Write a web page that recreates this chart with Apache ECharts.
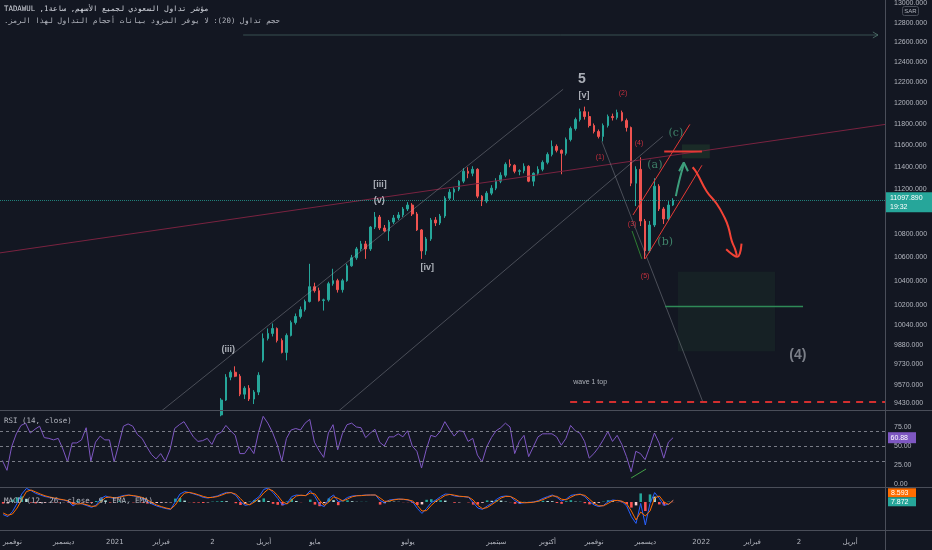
<!DOCTYPE html>
<html><head><meta charset="utf-8">
<script src="https://cdn.jsdelivr.net/npm/echarts@6/dist/echarts.min.js"></script>
<style>html,body{margin:0;padding:0;background:#131722;}#c{width:932px;height:550px;}</style>
</head><body><div id="c"></div>
<script>
// ---------- time axis (2-session slots per category) ----------
const monthKeys = ['2020-10','2020-11','2020-12','2021-01','2021-02','2021-03','2021-04','2021-05','2021-06','2021-07','2021-08','2021-09','2021-10','2021-11','2021-12','2022-01','2022-02','2022-03','2022-04'];
const monthNames = ['','نوفمبر','ديسمبر','2021','فبراير','2','أبريل','مايو','','يوليو','','سبتمبر','أكتوبر','نوفمبر','ديسمبر','2022','فبراير','2','أبريل'];
const monthSlots = [2,11,11,10,11,11,11,10,10,10,9,11,10,11,12,11,10,11,8];

// ---------- price candles [open, close, low, high], first slot = 47 ----------
const firstCandleSlot = 47;
const candles = [
[9340,9452,9330,9467],[9452,9628,9445,9651],[9628,9666,9604,9681],[9666,9635,9628,9712],[9635,9497,9482,9651],
[9497,9543,9460,9558],[9543,9460,9445,9566],[9460,9513,9422,9528],[9513,9643,9490,9666],[9759,9932,9743,9972],
[9932,9972,9916,10012],[9972,10012,9948,10052],[10012,9916,9900,10020],[9916,9821,9813,9932],[9821,9956,9759,9972],
[9956,10060,9948,10076],[10060,10109,10044,10133],[10109,10165,10093,10190],[10165,10231,10149,10247],[10231,10354,10223,10546],
[10354,10321,10305,10387],[10321,10239,10231,10346],[10239,10245,10157,10255],[10245,10379,10231,10395],[10379,10404,10362,10504],
[10404,10329,10305,10420],[10329,10404,10305,10420],[10404,10529,10395,10546],[10529,10597,10521,10622],[10597,10673,10580,10690],
[10673,10716,10656,10742],[10716,10673,10588,10742],[10673,10862,10656,10871],[10862,10950,10845,10994],[10950,10854,10837,10968],
[10854,10828,10820,10880],[10828,10906,10742,10924],[10906,10942,10889,10968],[10942,10968,10924,10994],[10968,11021,10950,11038],
[11021,11056,11003,11082],[11056,10977,10959,11073],[10977,10837,10828,10994],[10837,10656,10588,10845],[10656,10759,10622,10776],
[10759,10924,10742,10942],[10924,10898,10871,10950],[10898,10959,10880,10977],[10959,11117,10942,11135],[11117,11171,11100,11198],
[11171,11198,11100,11216],[11198,11270,11180,11279],[11270,11360,11252,11388],[11360,11342,11297,11397],[11342,11378,11315,11406],
[11378,11135,11117,11388],[11135,11091,11047,11144],[11091,11162,11073,11180],[11162,11207,11144,11234],[11207,11270,11189,11297],
[11270,11324,11252,11351],[11324,11424,11306,11442],[11424,11415,11397,11469],[11415,11360,11342,11424],[11360,11365,11324,11378],
[11365,11406,11342,11433],[11406,11270,11261,11415],[11270,11342,11225,11351],[11342,11378,11324,11406],[11378,11442,11360,11460],
[11442,11515,11424,11534],[11515,11590,11497,11645],[11590,11553,11534,11608],[11553,11525,11333,11562],[11525,11654,11506,11673],
[11654,11757,11636,11776],[11757,11842,11738,11861],[11842,11918,11824,11947],[11918,11871,11842,11966],[11871,11786,11767,11918],
[11786,11729,11711,11805],[11729,11683,11664,11748],[11683,11786,11636,11805],[11786,11871,11767,11890],[11871,11861,11833,11899],
[11861,11909,11842,11937],[11909,11833,11824,11928],[11833,11767,11729,11852],[11767,11252,11225,11776],[11252,11378,11047,11406],
[11378,10915,10871,11488],[10915,10656,10588,10933],[10656,10880,10639,10915],[10880,11225,10862,11297],[11225,11021,11003,11243],
[11021,10933,10889,11038],[10933,11056,10915,11091],[11056,11097.89,11047,11117]
];
const lastClose = 11097.89;
const priceTicks = [9430,9570,9730,9880,10040,10200,10400,10600,10800,11200,11400,11600,11800,12000,12200,12400,12600,12800,13000];

// ---------- RSI (14) per slot ----------
const rsi = [31,18,49,66,77,80,67,72,76,61,60,58,60,46,29,54,54,58,74,30,
55,63,58,58,29,52,76,79,76,65,60,49,39,33,40,30,45,73,78,82,
72,62,56,57,60,52,65,68,77,70,64,40,40,49,40,68,89,80,68,52,
30,60,71,73,71,80,85,55,44,35,67,78,45,66,78,80,75,74,61,67,
72,55,50,62,62,66,62,70,50,43,21,45,64,62,69,82,72,63,70,69,
56,60,38,29,49,61,70,74,80,75,40,56,64,36,49,62,66,66,66,62,
51,60,77,70,67,56,34,40,48,58,69,56,64,52,36,16,43,40,32,49,
67,54,34,55,60.88];
const rsiTicks = [0,25,50,75];
const rsiLevels = [70,50,30];
const rsiDivergence = [[135.0,7.9],[138.2,19.7]];

// ---------- MACD (12,26,9) per slot ----------
const macd = [-63,-73,-48,-7,40,68,57,43,35,27,23,18,13,10,3,-20,-3,-10,-18,-27,
-15,18,30,22,18,27,33,35,30,27,18,2,-10,-20,-27,-33,-37,2,40,52,
47,40,33,23,20,25,30,40,48,47,33,2,-17,-12,10,27,63,70,47,18,
-15,-7,27,35,33,32,57,27,-13,-23,18,35,2,7,23,30,32,33,35,35,
35,7,-3,10,13,15,13,10,0,-32,-57,-32,-3,10,27,40,38,30,27,27,
23,-3,-30,-37,-20,-7,13,27,30,27,7,-7,-3,-2,0,7,18,27,35,23,
5,15,33,37,40,27,2,-15,-23,-17,2,10,7,2,-20,-73,-107,-7,-115,-7,
47,18,-17,-10,7.872];
const signal = [-55,-66,-60,-30,12,52,60,50,40,31,25,20,15,11,6,-8,-10,-8,-14,-22,
-20,2,22,25,20,23,30,34,32,28,22,10,-3,-15,-23,-30,-35,-15,20,45,
48,43,36,28,22,23,27,35,44,47,39,17,-8,-14,0,18,45,65,56,32,
2,-10,10,30,34,32,45,40,8,-17,0,26,18,5,15,26,31,32,34,35,
35,20,3,5,11,14,14,11,5,-17,-45,-43,-17,4,18,33,38,34,29,27,
25,10,-17,-33,-28,-13,3,20,28,28,16,0,-4,-3,-1,4,12,22,31,28,
14,11,24,35,38,33,14,-7,-19,-19,-7,6,8,4,-9,-45,-90,-50,-70,-45,
20,30,0,-12,8.593];
const hist = [-8,-7,12,23,28,16,-3,-7,-5,-4,-2,-2,-2,-1,-3,-12,7,-2,-4,-5,
5,16,8,-3,-2,4,3,1,-2,-1,-4,-8,-7,-5,-4,-3,-2,17,20,7,
-1,-3,-3,-5,-2,2,3,5,4,0,-6,-15,-9,2,10,9,18,5,-9,-14,
-17,3,17,5,-1,0,12,-13,-21,-6,18,9,-16,2,8,4,1,1,1,0,
0,-13,-6,5,2,1,-1,-1,-5,-15,-12,11,14,6,9,7,0,-4,-2,0,
-2,-13,-13,-4,8,6,10,7,2,-1,-9,-7,1,1,1,3,6,5,4,-5,
-9,4,9,2,2,-6,-12,-8,-4,2,9,4,-1,-2,-11,-28,-17,43,-45,38,
27,-12,-17,2,-0.72];

// ---------- analyst drawings in (slot, price) ----------
const upperChannel = [[33.1,9340],[120.4,12134]];
const lowerChannel = [[71.2,9340],[141.8,11683]];
const longTrend = [[-0.5,10639],[189.5,11796]];
const wave1Ray = [[128.7,11636],[150.4,9437]];
const wave1Top = [[121.9,9437],[189.5,9437]];
const redChannelUpper = [[135.4,10968],[147.6,11796]];
const redChannelLower = [[138.0,10588],[150.2,11415]];
const redLevel = [[142.1,11543],[150.2,11543]];
const targetLine = [[142.3,10190],[171.9,10190]];
const targetBox = [[145.05,10479],[165.9,9830]];
const cBox = [[145.9,11608],[151.9,11479]];
const greenArrow = [[144.6,11135],[145.3,11270],[146.3,11424]];
const greenArrowHead = [[145.3,11360],[146.3,11442],[147.2,11360]];
const redArrow = [[148.2,11397],[149.1,11345],[151.2,11180],[153.4,11065],[155.1,10941],[155.9,10857],[156.6,10742],[157.3,10673],[157.7,10614]];
const redArrowHead = [[155.4,10671],[157.8,10606],[158.7,10719]];
const dropArrow = [[135.2,10828],[137.3,10588]];
const topRay = [[51.7,12675],[188.0,12675]];
const topRayHead = [[186.9,12706],[188.0,12675],[186.9,12645]];

const labelsWhite = [[124.9,12072,'[v]'],[81.1,11243,'[iii]'],[80.9,11100,'(v)'],[91.2,10512,'[iv]'],[48.5,9845,'(iii)']];
const labelsBig = [[124.45,12237,'5']];
const labelsGrey = [[170.8,9798,'(4)']];
const labelsRed = [[133.25,12101,'(2)'],[128.3,11488,'(1)'],[136.7,11618,'(4)'],[135.2,10889,'(3)'],[138.0,10445,'(5)']];
const labelsGreen = [[140.1,11415,'(a)'],[142.3,10733,'(b)'],[144.6,11711,'(c)']];
const labelsNote = [[126.2,9589,'wave 1 top']];

// ---------- build ----------
const categories = [];
const monthLabelAt = {};
monthSlots.forEach((n, m) => {
  for (let k = 0; k < n; k++) {
    const idx = categories.length;
    categories.push(monthKeys[m] + '-' + (k + 1));
    if (k === 0 && monthNames[m]) monthLabelAt[idx] = monthNames[m];
  }
});
const nSlots = categories.length;
const candleData = [];
for (let i = 0; i < firstCandleSlot; i++) candleData.push(['-','-','-','-']);
candles.forEach(c => candleData.push(c));

const TXT = '#b2b5be';
const SEP = '#4a4e59';
const MONO = "'DejaVu Sans Mono','DejaVu Sans',monospace";
const SANS = "'Liberation Sans','DejaVu Sans',sans-serif";

function seg(data, style, extra) {
  return Object.assign({type:'line', xAxisIndex:3, yAxisIndex:0, data:data, symbol:'none', silent:true,
    lineStyle:style, z:4, animation:false}, extra || {});
}
function labelSeries(data, lab) {
  return {type:'scatter', xAxisIndex:3, yAxisIndex:0, data:data, symbolSize:1, silent:true, z:6,
    itemStyle:{color:'rgba(0,0,0,0)'},
    label:Object.assign({show:true, position:'inside', formatter:p => p.value[2]}, lab)};
}

const chart = echarts.init(document.getElementById('c'));
const option = {
  backgroundColor:'#131722',
  animation:false,
  textStyle:{fontFamily:SANS},
  grid:[
    {left:0, right:47, top:0, height:410},
    {left:0, right:47, top:411, height:73},
    {left:0, right:47, top:488, height:42}
  ],
  xAxis:[
    {type:'category', gridIndex:0, data:categories, show:false},
    {type:'category', gridIndex:1, data:categories, show:false},
    {type:'category', gridIndex:2, data:categories, axisLine:{show:false}, axisTick:{show:false}, splitLine:{show:false},
      axisLabel:{interval:(i) => monthLabelAt[i] !== undefined, formatter:(v, i) => monthLabelAt[i] || '',
        color:TXT, fontSize:7, margin:9, fontFamily:"'DejaVu Sans',sans-serif"}},
    {type:'value', gridIndex:0, min:-0.5, max:nSlots - 0.5, show:false},
    {type:'value', gridIndex:1, min:-0.5, max:nSlots - 0.5, show:false}
  ],
  yAxis:[
    {type:'log', logBase:10, gridIndex:0, position:'right', min:9377, max:13014,
      axisLine:{show:false}, axisTick:{show:false}, splitLine:{show:false},
      axisLabel:{customValues:priceTicks, formatter:v => Math.round(v).toFixed(3), color:TXT, fontSize:7, margin:9, fontFamily:SANS}},
    {type:'value', gridIndex:1, position:'right', min:0, max:96,
      axisLine:{show:false}, axisTick:{show:false}, splitLine:{show:false},
      axisLabel:{customValues:rsiTicks, formatter:v => Number(v).toFixed(2), color:TXT, fontSize:7, margin:9, fontFamily:SANS}},
    {type:'value', gridIndex:2, position:'right', min:-140, max:70,
      axisLine:{show:false}, axisTick:{show:false}, splitLine:{show:false}, axisLabel:{show:false}}
  ],
  series:[
    {type:'line', xAxisIndex:3, yAxisIndex:0, data:targetBox, symbol:'none', silent:true, lineStyle:{opacity:0}, z:1,
      markArea:{silent:true, data:[
        [{coord:targetBox[0], itemStyle:{color:'rgba(76,175,80,0.07)'}},{coord:targetBox[1]}],
        [{coord:cBox[0], itemStyle:{color:'rgba(76,175,80,0.13)'}},{coord:cBox[1]}]
      ]}},
    {type:'candlestick', xAxisIndex:0, yAxisIndex:0, data:candleData, barWidth:'45%', z:3,
      itemStyle:{color:'#26a69a', color0:'#ef5350', borderColor:'#26a69a', borderColor0:'#ef5350', borderWidth:1},
      markLine:{silent:true, symbol:['none','none'], label:{show:false},
        lineStyle:{type:'dotted', color:'#26a69a', width:1, opacity:0.75}, data:[{yAxis:lastClose}]}},
    seg(longTrend, {color:'#7a2340', width:1}),
    seg(upperChannel, {color:'rgba(178,181,190,0.35)', width:1}),
    seg(lowerChannel, {color:'rgba(178,181,190,0.35)', width:1}),
    seg(wave1Ray, {color:'rgba(178,181,190,0.35)', width:1}),
    seg(topRay, {color:'rgba(90,130,120,0.55)', width:1}),
    seg(topRayHead, {color:'rgba(90,130,120,0.7)', width:1}),
    seg(wave1Top, {color:'#d32f2f', width:2, type:[7,6]}),
    seg(redChannelUpper, {color:'#e53935', width:1}),
    seg(redChannelLower, {color:'#e53935', width:1}),
    seg(redLevel, {color:'#e53935', width:2}),
    seg(targetLine, {color:'#2f8a57', width:1.5}),
    seg(greenArrow, {color:'#3d9e7c', width:2}, {smooth:true}),
    seg(greenArrowHead, {color:'#3d9e7c', width:2}),
    seg(redArrow, {color:'#f44336', width:2}, {smooth:true}),
    seg(redArrowHead, {color:'#f44336', width:2}, {smooth:0.4}),
    seg(dropArrow, {color:'#2e7d32', width:1}),
    labelSeries(labelsWhite, {color:'#d1d4dc', fontSize:9, fontWeight:'bold', fontFamily:SANS}),
    labelSeries(labelsBig, {color:'#d1d4dc', fontSize:14, fontWeight:'bold', fontFamily:SANS}),
    labelSeries(labelsGrey, {color:'#9598a1', fontSize:14, fontWeight:'bold', fontFamily:SANS}),
    labelSeries(labelsRed, {color:'#f23645', fontSize:7, fontFamily:SANS}),
    labelSeries(labelsGreen, {color:'#4a9c7a', fontSize:11, fontFamily:"'DejaVu Serif',serif"}),
    labelSeries(labelsNote, {color:'#d1d4dc', fontSize:7, fontFamily:SANS}),
    {type:'line', xAxisIndex:1, yAxisIndex:1, data:rsi, symbol:'none', z:3,
      lineStyle:{color:'#7e57c2', width:1},
      markLine:{silent:true, symbol:['none','none'], label:{show:false},
        lineStyle:{type:[3,3], color:'#787b86', width:1}, data:rsiLevels.map(v => ({yAxis:v}))}},
    {type:'line', xAxisIndex:4, yAxisIndex:1, data:rsiDivergence, symbol:'none', silent:true, lineStyle:{color:'#43a047', width:1}},
    {type:'bar', xAxisIndex:2, yAxisIndex:2, data:hist, barWidth:'55%', z:2,
      itemStyle:{color:p => {
        const v = hist[p.dataIndex], pr = p.dataIndex > 0 ? hist[p.dataIndex - 1] : 0;
        if (v >= 0) return v >= pr ? '#26a69a' : '#b2dfdb';
        return v <= pr ? '#ff5252' : '#ffcdd2';
      }}},
    {type:'line', xAxisIndex:2, yAxisIndex:2, data:macd, symbol:'none', z:3, lineStyle:{color:'#2962ff', width:1}},
    {type:'line', xAxisIndex:2, yAxisIndex:2, data:signal, symbol:'none', z:4, lineStyle:{color:'#ff6d00', width:1}}
  ],
  graphic:[
    {type:'line', id:'sepV', shape:{x1:885.5, y1:0, x2:885.5, y2:550}, style:{stroke:SEP, lineWidth:1}, z:50},
    {type:'line', id:'sepH1', shape:{x1:0, y1:410.5, x2:932, y2:410.5}, style:{stroke:SEP, lineWidth:1}, z:50},
    {type:'line', id:'sepH2', shape:{x1:0, y1:487.5, x2:932, y2:487.5}, style:{stroke:SEP, lineWidth:1}, z:50},
    {type:'line', id:'sepH3', shape:{x1:0, y1:530.5, x2:932, y2:530.5}, style:{stroke:SEP, lineWidth:1}, z:50},
    {type:'text', id:'h1', style:{text:'\u202Bمؤشر تداول السعودي لجميع الأسهم, ساعة1, TADAWUL\u202C', x:4, y:9, fill:'#d1d4dc', fontSize:7.4, fontFamily:MONO, verticalAlign:'middle', align:'left'}, z:60},
    {type:'text', id:'h2', style:{text:'\u202Bحجم تداول (20): لا يوفر المزود بيانات أحجام التداول لهذا الرمز.\u202C', x:4, y:21, fill:TXT, fontSize:7.4, fontFamily:MONO, verticalAlign:'middle', align:'left'}, z:60},
    {type:'text', id:'rsiTitle', style:{text:'RSI (14, close)', x:4, y:421, fill:TXT, fontSize:7.5, fontFamily:MONO, verticalAlign:'middle'}, z:60},
    {type:'text', id:'macdTitle', style:{text:'MACD (12, 26, close, 9, EMA, EMA)', x:4, y:501, fill:TXT, fontSize:7.5, fontFamily:MONO, verticalAlign:'middle'}, z:60},
    {type:'rect', id:'sarBox', shape:{x:902.5, y:6.5, width:16, height:9, r:2}, style:{fill:'#131722', stroke:SEP, lineWidth:1}, z:60},
    {type:'text', id:'sarTxt', style:{text:'SAR', x:910.5, y:11, fill:TXT, fontSize:6, fontFamily:SANS, align:'center', verticalAlign:'middle'}, z:61}
  ]
};
chart.setOption(option);

const yP = chart.convertToPixel({yAxisIndex:0}, lastClose);
const yR = chart.convertToPixel({yAxisIndex:1}, rsi[rsi.length - 1]);
const yM = chart.convertToPixel({yAxisIndex:2}, signal[signal.length - 1]);
chart.setOption({graphic:[
  {type:'rect', id:'pBadge', shape:{x:886, y:yP - 8, width:46, height:20}, style:{fill:'#26a69a'}, z:70},
  {type:'text', id:'pBadgeT1', style:{text:lastClose.toFixed(3), x:890, y:yP - 2, fill:'#ffffff', fontSize:7, fontFamily:SANS, verticalAlign:'middle'}, z:71},
  {type:'text', id:'pBadgeT2', style:{text:'19:32', x:890, y:yP + 7, fill:'#ffffff', fontSize:7, fontFamily:SANS, verticalAlign:'middle'}, z:71},
  {type:'rect', id:'rBadge', shape:{x:888, y:yR - 5.5, width:28, height:11}, style:{fill:'#7e57c2'}, z:70},
  {type:'text', id:'rBadgeT', style:{text:rsi[rsi.length - 1].toFixed(2), x:890.5, y:yR, fill:'#ffffff', fontSize:7, fontFamily:SANS, verticalAlign:'middle'}, z:71},
  {type:'rect', id:'mBadge1', shape:{x:888, y:yM - 12, width:28, height:9}, style:{fill:'#ff6d00'}, z:70},
  {type:'text', id:'mBadge1T', style:{text:signal[signal.length - 1].toFixed(3), x:891, y:yM - 7.5, fill:'#ffffff', fontSize:7, fontFamily:SANS, verticalAlign:'middle'}, z:71},
  {type:'rect', id:'mBadge2', shape:{x:888, y:yM - 3, width:28, height:9}, style:{fill:'#26a69a'}, z:70},
  {type:'text', id:'mBadge2T', style:{text:macd[macd.length - 1].toFixed(3), x:891, y:yM + 1.5, fill:'#ffffff', fontSize:7, fontFamily:SANS, verticalAlign:'middle'}, z:71}
]});
</script>
</body></html>
